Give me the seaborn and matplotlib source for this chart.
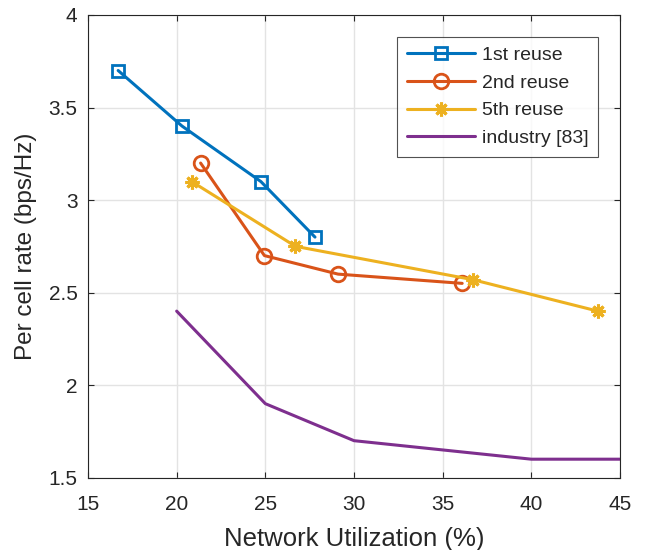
import matplotlib
matplotlib.use("Agg")
import matplotlib.pyplot as plt
import seaborn as sns
import pandas as pd

# Data
x_reuse1 = [16.7, 20.3, 24.75, 27.8]
y_reuse1 = [3.70, 3.40, 3.10, 2.80]
x_reuse2 = [21.35, 24.95, 29.1, 36.1]
y_reuse2 = [3.20, 2.70, 2.60, 2.55]
x_reuse5 = [20.85, 26.7, 36.7, 43.75]
y_reuse5 = [3.10, 2.75, 2.57, 2.40]
x_industry = [20, 25, 30, 40, 45]
y_industry = [2.40, 1.90, 1.70, 1.60, 1.60]
series_names = ["1st reuse", "2nd reuse", "5th reuse", "industry [83]"]
x_ticks = [15, 20, 25, 30, 35, 40, 45]
y_ticks = [1.5, 2, 2.5, 3, 3.5, 4]

sns.set_style("ticks")
plt.rcParams['font.family'] = ['Liberation Sans', 'DejaVu Sans']
dark = "#262626"

fig = plt.figure(figsize=(6.46, 5.5), dpi=100)
ax = fig.add_axes([88/646, 1-477.7/550, (620-88)/646, (477.7-15)/550])

colors = ["#0072BD", "#D95319", "#EDB120", "#7E2F8E"]
asterisk = (8, 2, 0)
styles = [
    dict(marker="s", markersize=8, markerfacecolor="none", markeredgewidth=2),
    dict(marker="o", markersize=10.5, markerfacecolor="none", markeredgewidth=2),
    dict(marker=asterisk, markersize=10, markeredgewidth=2.2),
    dict(),
]
xs = [x_reuse1, x_reuse2, x_reuse5, x_industry]
ys = [y_reuse1, y_reuse2, y_reuse5, y_industry]
for name, xv, yv, c, st in zip(series_names, xs, ys, colors, styles):
    df = pd.DataFrame({"x": xv, "y": yv})
    kw = dict(st)
    if "marker" in kw:
        kw["markeredgecolor"] = c
    sns.lineplot(data=df, x="x", y="y", ax=ax, color=c, linewidth=2.2,
                 label=name, **kw)

ax.set_xlim(15, 45)
ax.set_ylim(1.5, 4)
ax.set_xticks(x_ticks)
ax.set_yticks(y_ticks)
ax.set_yticklabels([f"{v:g}" for v in y_ticks])
ax.grid(True, color="#E3E3E3", linewidth=1)
ax.set_axisbelow(True)
for s in ax.spines.values():
    s.set_visible(True)
    s.set_color(dark)
    s.set_linewidth(0.8)
ax.tick_params(direction="in", length=4, width=0.8, colors=dark, labelsize=15,
               top=True, right=True)
ax.tick_params(axis="x", pad=12.5)
ax.tick_params(axis="y", pad=7.5)
for lab in ax.get_xticklabels() + ax.get_yticklabels():
    lab.set_color(dark)
ax.set_xlabel("Network Utilization (%)", fontsize=18.5, color=dark, labelpad=9)
ax.set_ylabel("Per cell rate (bps/Hz)", fontsize=17.5, color=dark, labelpad=8)

leg = ax.legend(loc="upper right", bbox_to_anchor=((598-88)/532, (477.7-36.7)/462.7),
                borderaxespad=0, fontsize=14, frameon=True, fancybox=False,
                edgecolor=dark, handlelength=3.5, labelspacing=0.52,
                handletextpad=0.35, borderpad=0.5)
leg.get_frame().set_linewidth(0.8)
for t in leg.get_texts():
    t.set_color(dark)

fig.savefig("out.png", dpi=100)
